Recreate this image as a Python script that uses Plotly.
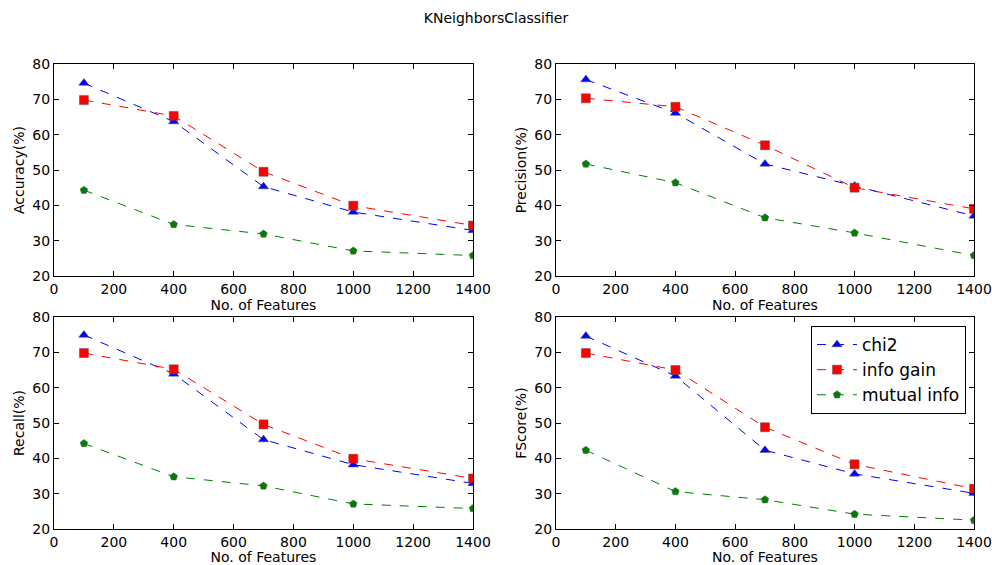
import plotly.graph_objects as go
from plotly.subplots import make_subplots

features = [100, 400, 700, 1000, 1400]
series_names = ["chi2", "info gain", "mutual info"]

accuracy_chi2 = [74.6, 63.7, 45.3, 38.1, 32.9]
accuracy_infogain = [69.8, 65.3, 49.5, 39.9, 34.3]
accuracy_mutual = [44.3, 34.6, 31.9, 27.1, 25.8]

precision_chi2 = [75.6, 66.1, 51.7, 45.5, 37.0]
precision_infogain = [70.3, 67.9, 57.0, 45.0, 39.0]
precision_mutual = [51.7, 46.4, 36.5, 32.2, 25.8]

recall_chi2 = [74.9, 63.9, 45.3, 38.2, 32.9]
recall_infogain = [69.8, 65.2, 49.6, 39.9, 34.3]
recall_mutual = [44.2, 34.8, 32.2, 27.1, 25.8]

fscore_chi2 = [74.6, 63.3, 42.3, 35.6, 30.1]
fscore_infogain = [69.8, 65.0, 48.8, 38.3, 31.4]
fscore_mutual = [42.3, 30.6, 28.3, 24.2, 22.5]

y_titles = ["Accuracy(%)", "Precision(%)", "Recall(%)", "FScore(%)"]
panels = [
    (accuracy_chi2, accuracy_infogain, accuracy_mutual),
    (precision_chi2, precision_infogain, precision_mutual),
    (recall_chi2, recall_infogain, recall_mutual),
    (fscore_chi2, fscore_infogain, fscore_mutual),
]

colors = ["#0000ff", "#ff0000", "#008000"]
symbols = ["triangle-up", "square", "pentagon"]
sizes = [9, 9, 8]

fig = make_subplots(rows=2, cols=2)

positions = [(1, 1), (1, 2), (2, 1), (2, 2)]
for idx, (vals, (r, c)) in enumerate(zip(panels, positions)):
    for s in range(3):
        fig.add_trace(
            go.Scatter(
                x=features, y=vals[s], mode="lines+markers",
                name=series_names[s],
                showlegend=(idx == 3),
                line=dict(color=colors[s], width=1, dash="dash"),
                marker=dict(symbol=symbols[s], size=sizes[s], color=colors[s],
                            line=dict(color="#555555", width=0.5)),
            ),
            row=r, col=c,
        )

xdomains = [[54 / 992, 473 / 992], [556 / 992, 974 / 992]]
ydomains = [[1 - 276 / 565, 1 - 64 / 565], [1 - 529 / 565, 1 - 317 / 565]]

axis_common = dict(
    showline=True, linecolor="black", linewidth=1, mirror="ticks",
    ticks="inside", ticklen=5, tickcolor="black", showgrid=False,
    zeroline=False, tickfont=dict(size=14, color="black"), automargin=False,
)

for idx, (r, c) in enumerate(positions):
    fig.update_xaxes(
        range=[0, 1400], dtick=200, domain=xdomains[c - 1],
        title=dict(text="No. of Features", font=dict(size=14, color="black"), standoff=2),
        **axis_common, row=r, col=c,
    )
    fig.update_yaxes(
        range=[20, 80], dtick=10, domain=ydomains[r - 1],
        title=dict(text=y_titles[idx], font=dict(size=14, color="black"), standoff=4),
        **axis_common, row=r, col=c,
    )

fig.update_layout(
    width=992, height=565,
    margin=dict(l=0, r=0, t=0, b=0, autoexpand=False),
    paper_bgcolor="white", plot_bgcolor="white",
    font=dict(family="DejaVu Sans", color="black"),
    title=dict(text="KNeighborsClassifier", x=0.5, xanchor="center",
               y=1 - 18 / 565, yanchor="middle", font=dict(size=14, color="black")),
    legend=dict(
        x=966 / 992, xanchor="right", y=1 - 326 / 565, yanchor="top",
        bgcolor="white", bordercolor="black", borderwidth=1,
        font=dict(size=17, color="black"), itemwidth=40,
        tracegroupgap=2,
    ),
)

fig.write_html(
    "out.html",
    config={"displayModeBar": False},
    post_script="document.body.style.margin='0px';document.body.style.overflow='hidden';",
)
